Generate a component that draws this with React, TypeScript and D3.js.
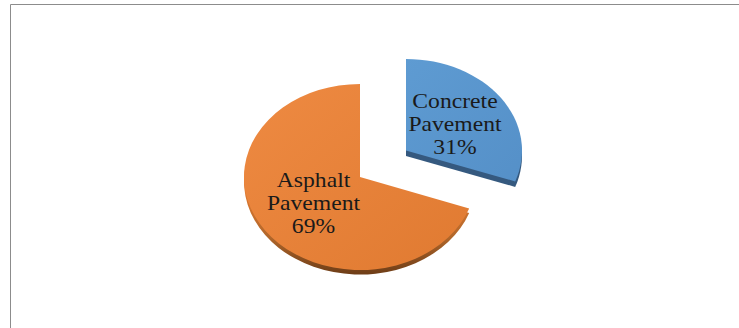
import React from "react";
import * as d3 from "d3";

const categories = ["Concrete", "Asphalt"];
const shares = [31, 69];
const percentLabels = ["31%", "69%"];
const secondLine = "Pavement";

const WIDTH = 739;
const HEIGHT = 328;
const RX = 116;

const faceColors = ["url(#faceBlue)", "url(#faceOrange)"];
const sideColors = ["#35597f", "url(#sideOrange)"];
// Slice geometry and label anchors, in page pixels.
const centres = [
  { x: 406, y: 150.5, ry: 91.5, depth: 5.5 },
  { x: 360, y: 177, ry: 93, depth: 4.5 },
];
const labelAt = [
  { x: 455, y: 108 },
  { x: 313.5, y: 187 },
];
const LINE_GAP = 22.8;
const FONT_SIZE = 22;
const TEXT_STRETCH = 1.075;

// Perspective of the tilted disc pulls the side of the pie slightly upward.
const viewAngle = (a: number) => a - 0.035 * Math.sin(a);

export default function App() {
  const arcs = d3
    .pie<number>()
    .sort(null)
    .startAngle(0)
    .endAngle(2 * Math.PI)(shares);
  const arcPath = d3.arc<{ startAngle: number; endAngle: number }>().innerRadius(0).outerRadius(RX);
  const sliceD = (a: d3.PieArcDatum<number>) =>
    arcPath({ startAngle: viewAngle(a.startAngle), endAngle: viewAngle(a.endAngle) }) ?? "";

  return (
    <svg
      width={WIDTH}
      height={HEIGHT}
      style={{ position: "absolute", left: 0, top: 0, background: "#fff" }}
      fontFamily="'Liberation Serif', serif"
    >
      <defs>
        <linearGradient id="faceBlue" x1="0" y1="0" x2="1" y2="1">
          <stop offset="0" stopColor="#5e9bd2" />
          <stop offset="1" stopColor="#5590c8" />
        </linearGradient>
        <linearGradient id="faceOrange" x1="0" y1="0" x2="1" y2="1">
          <stop offset="0" stopColor="#ee8a42" />
          <stop offset="1" stopColor="#e07a31" />
        </linearGradient>
        <linearGradient id="sideOrange" x1="0" y1="0" x2="0" y2="1">
          <stop offset="0.55" stopColor="#e07a31" />
          <stop offset="0.8" stopColor="#b0662a" />
          <stop offset="1" stopColor="#6e3d17" />
        </linearGradient>
      </defs>
      <path d={`M10.5,${HEIGHT}V4.5H${WIDTH}`} fill="none" stroke="#8c8c8c" strokeWidth={1} />
      {arcs.map((a, i) => {
        const c = centres[i];
        const flatten = c.ry / RX;
        return (
          <g key={categories[i]}>
            <g transform={`translate(${c.x},${c.y + c.depth}) scale(1,${flatten})`}>
              <path d={sliceD(a)} fill={sideColors[i]} />
            </g>
            <g transform={`translate(${c.x},${c.y}) scale(1,${flatten})`}>
              <path d={sliceD(a)} fill={faceColors[i]} />
            </g>
            {[categories[i], secondLine, percentLabels[i]].map((line, j) => (
              <text
                key={line}
                transform={`translate(${labelAt[i].x},${labelAt[i].y + j * LINE_GAP}) scale(${TEXT_STRETCH},1)`}
                textAnchor="middle"
                fontSize={FONT_SIZE}
                fill="#1a1a1a"
              >
                {line}
              </text>
            ))}
          </g>
        );
      })}
    </svg>
  );
}
